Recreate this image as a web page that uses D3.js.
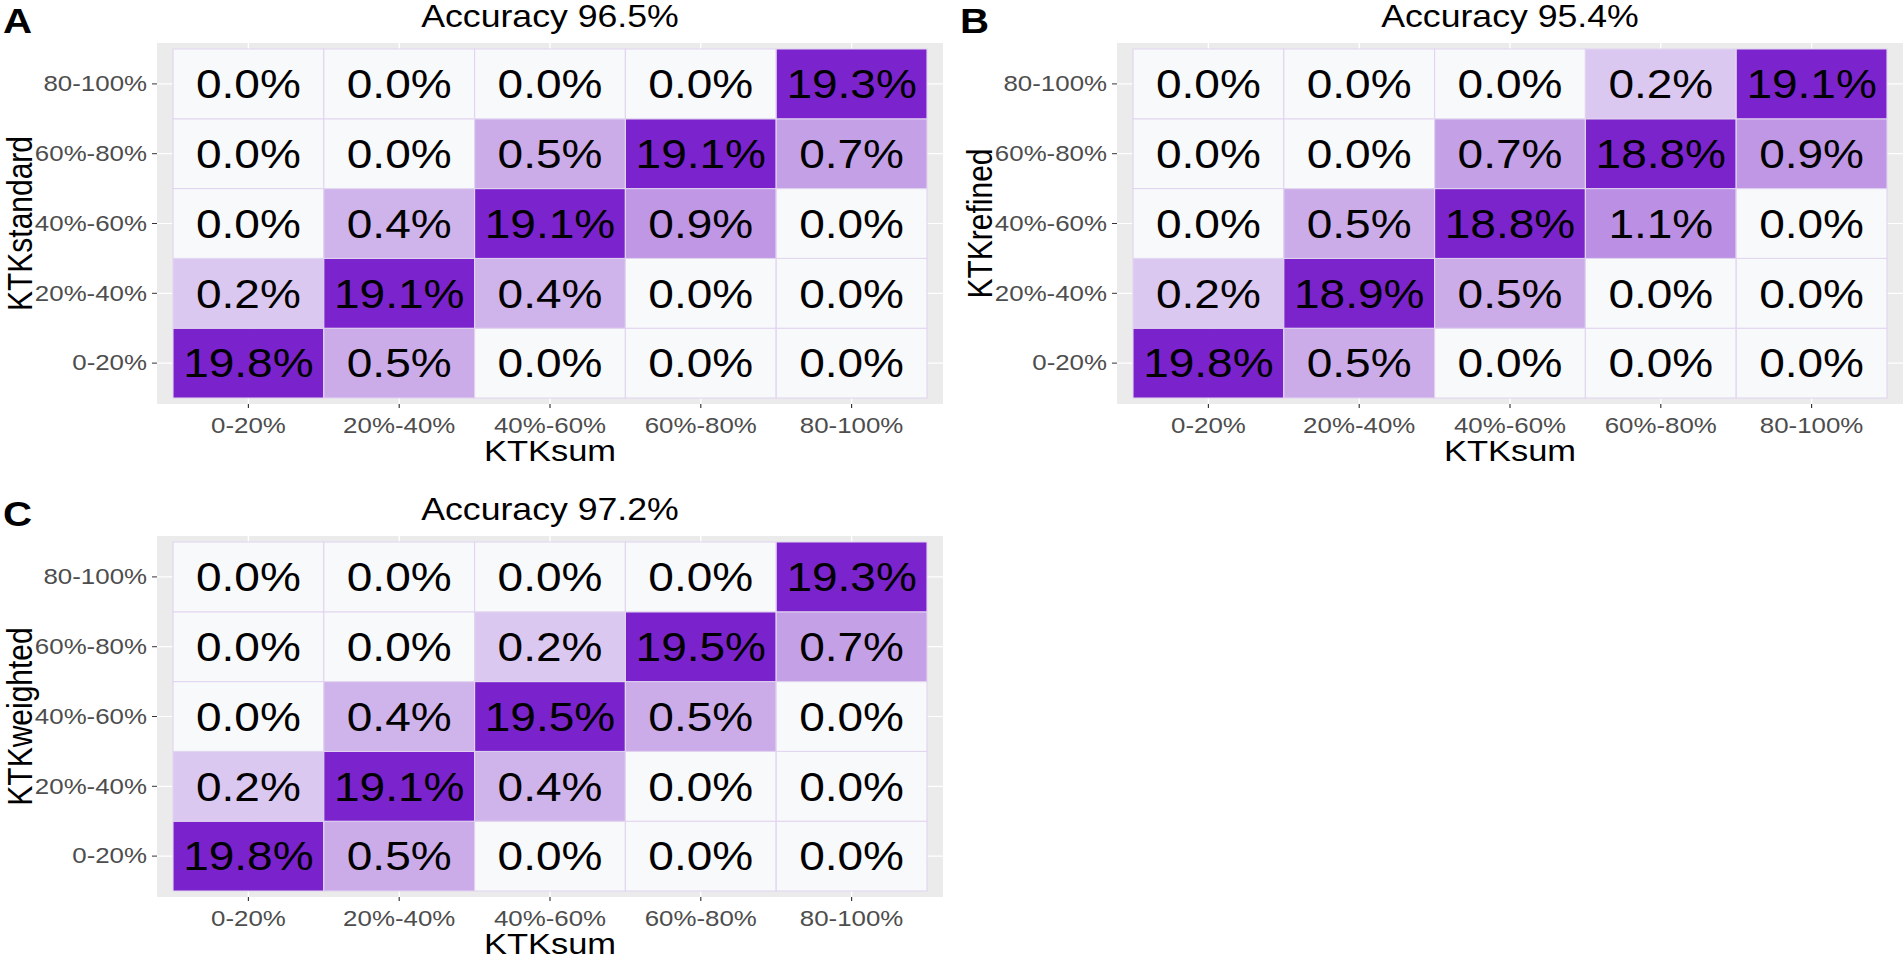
<!DOCTYPE html>
<html lang="en">
<head>
<meta charset="UTF-8">
<title>KTK confusion matrices</title>
<script src="https://d3js.org/d3.v7.min.js"></script>
<style>
  body { margin: 0; background: #fff; }
  svg { display: block; font-family: "Liberation Sans", Arial, sans-serif; }
</style>
</head>
<body>
<svg id="chart" width="1904" height="963"></svg>
<script>

const bins = ["0-20%", "20%-40%", "40%-60%", "60%-80%", "80-100%"];
const letters = ["A", "B", "C"];
const titles = ["Accuracy 96.5%", "Accuracy 95.4%", "Accuracy 97.2%"];
const yTitles = ["KTKstandard", "KTKrefined", "KTKweighted"];
const xTitle = "KTKsum";

// rows = y bin from 0-20% up to 80-100%, columns = KTKsum bins
const standardVals = [
    [19.8, 0.5, 0.0, 0.0, 0.0],
    [0.2, 19.1, 0.4, 0.0, 0.0],
    [0.0, 0.4, 19.1, 0.9, 0.0],
    [0.0, 0.0, 0.5, 19.1, 0.7],
    [0.0, 0.0, 0.0, 0.0, 19.3]
];
const refinedVals = [
    [19.8, 0.5, 0.0, 0.0, 0.0],
    [0.2, 18.9, 0.5, 0.0, 0.0],
    [0.0, 0.5, 18.8, 1.1, 0.0],
    [0.0, 0.0, 0.7, 18.8, 0.9],
    [0.0, 0.0, 0.0, 0.2, 19.1]
];
const weightedVals = [
    [19.8, 0.5, 0.0, 0.0, 0.0],
    [0.2, 19.1, 0.4, 0.0, 0.0],
    [0.0, 0.4, 19.5, 0.5, 0.0],
    [0.0, 0.0, 0.2, 19.5, 0.7],
    [0.0, 0.0, 0.0, 0.0, 19.3]
];

// the figure is slightly stretched horizontally, draw everything in a scaled group
const SX = 1.15;
const px = v => v / SX;

const panels = [
    { vals: standardVals, gx: 157, gy: 43, letterX: 3, letterY: 33 },
    { vals: refinedVals, gx: 1117, gy: 43, letterX: 960, letterY: 33 },
    { vals: weightedVals, gx: 157, gy: 536, letterX: 3, letterY: 526 }
];
const greyW = 786, greyH = 361;
const padX = 16, padY = 6;

const color = d3.scaleSequentialSymlog(d3.interpolateRgb("#f8f9fa", "#7a22cc"))
    .constant(0.08)
    .domain([0, 19.8]);

const root = d3.select("#chart").append("g").attr("transform", `scale(${SX},1)`);

panels.forEach((p, i) => {
    const g = root.append("g");
    const left = p.gx + padX, right = p.gx + greyW - padX;
    const top = p.gy + padY, bottom = p.gy + greyH - padY;

    const x = d3.scaleBand().domain(bins).range([px(left), px(right)]);
    const y = d3.scaleBand().domain(bins).range([bottom, top]);

    // grey panel + white grid
    g.append("rect")
        .attr("x", px(p.gx)).attr("y", p.gy)
        .attr("width", px(greyW)).attr("height", greyH)
        .attr("fill", "#ebebeb");
    g.selectAll(".gx").data(bins).enter().append("line")
        .attr("x1", d => x(d) + x.bandwidth() / 2).attr("x2", d => x(d) + x.bandwidth() / 2)
        .attr("y1", p.gy).attr("y2", p.gy + greyH)
        .attr("stroke", "#fff").attr("stroke-width", 1.2);
    g.selectAll(".gy").data(bins).enter().append("line")
        .attr("x1", px(p.gx)).attr("x2", px(p.gx + greyW))
        .attr("y1", d => y(d) + y.bandwidth() / 2).attr("y2", d => y(d) + y.bandwidth() / 2)
        .attr("stroke", "#fff").attr("stroke-width", 1.2);

    const cells = [];
    p.vals.forEach((row, r) => row.forEach((v, c) => cells.push({ xb: bins[c], yb: bins[r], v })));

    g.selectAll(".tile").data(cells).enter().append("rect")
        .attr("x", d => x(d.xb)).attr("y", d => y(d.yb))
        .attr("width", x.bandwidth()).attr("height", y.bandwidth())
        .attr("fill", d => color(d.v))
        .attr("stroke", "#e2d4f0").attr("stroke-width", 1);

    g.selectAll(".lab").data(cells).enter().append("text")
        .attr("x", d => x(d.xb) + x.bandwidth() / 2)
        .attr("y", d => y(d.yb) + y.bandwidth() / 2)
        .attr("dy", "0.36em")
        .attr("text-anchor", "middle")
        .attr("font-size", 40)
        .attr("fill", "#000")
        .text(d => d.v.toFixed(1) + "%");

    // axes
    const yAxis = d3.axisLeft(y).tickSize(px(5)).tickPadding(px(5));
    const xAxis = d3.axisBottom(x).tickSize(4).tickPadding(9);
    const ya = g.append("g").attr("transform", `translate(${px(p.gx)},0)`).call(yAxis);
    const xa = g.append("g").attr("transform", `translate(0,${p.gy + greyH})`).call(xAxis);
    [ya, xa].forEach(a => {
        a.select(".domain").remove();
        a.selectAll(".tick line").attr("stroke", "#333").attr("stroke-width", 1);
        a.selectAll(".tick text").attr("fill", "#4d4d4d").attr("font-size", 22.5)
            .attr("font-family", "Liberation Sans, Arial, sans-serif");
    });

    // titles
    g.append("text")
        .attr("x", px(p.gx + greyW / 2)).attr("y", p.gy - 16)
        .attr("text-anchor", "middle").attr("font-size", 31).attr("fill", "#000")
        .text(titles[i]);
    g.append("text")
        .attr("x", px(p.gx + greyW / 2)).attr("y", p.gy + greyH + 57)
        .attr("text-anchor", "middle").attr("font-size", 30).attr("fill", "#000")
        .text(xTitle);
    g.append("text")
        .attr("transform", `translate(${px(p.gx - 125)},${p.gy + greyH / 2}) rotate(-90)`)
        .attr("text-anchor", "middle").attr("font-size", 30).attr("fill", "#000")
        .text(yTitles[i]);
    g.append("text")
        .attr("x", px(p.letterX)).attr("y", p.letterY)
        .attr("font-size", 35).attr("font-weight", "bold").attr("fill", "#000")
        .text(letters[i]);
});

</script>
</body>
</html>
